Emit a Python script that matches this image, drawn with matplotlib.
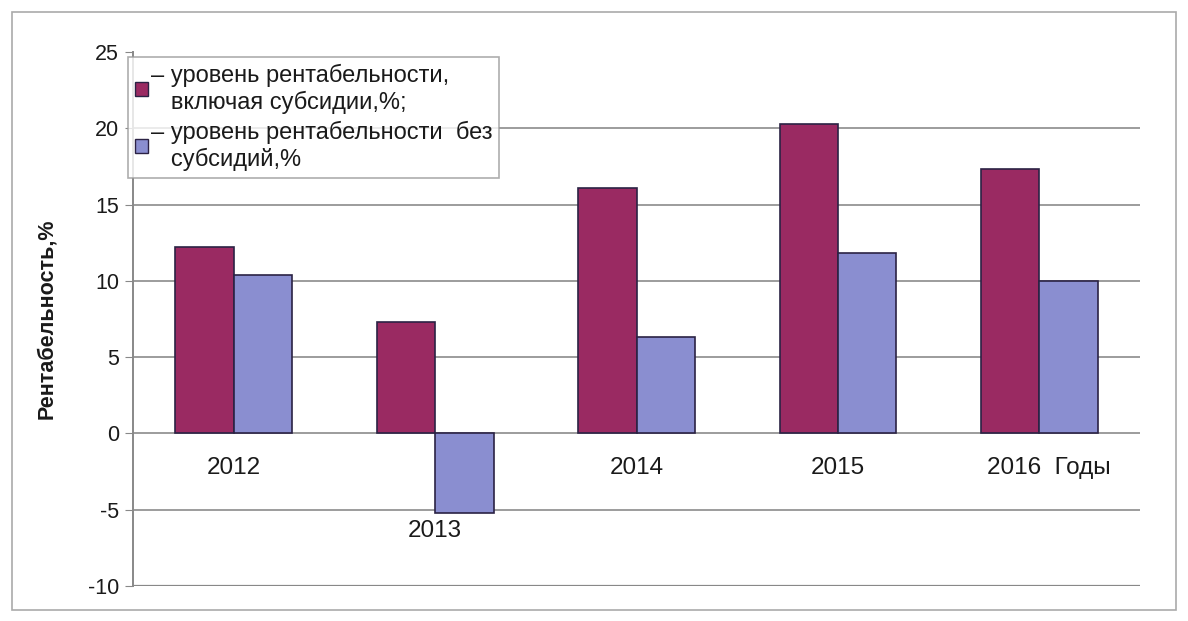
import matplotlib.pyplot as plt
from matplotlib.patches import Patch, Rectangle

plt.rcParams['font.family'] = ['Liberation Sans', 'DejaVu Sans']
plt.rcParams['axes.unicode_minus'] = False

# data
years = ["2012", "2013", "2014", "2015", "2016  Годы"]
with_subsidy = [12.2, 7.3, 16.1, 20.3, 17.3]
without_subsidy = [10.4, -5.2, 6.3, 11.8, 10.0]
series_labels = ["– уровень рентабельности,\n   включая субсидии,%;",
                 "– уровень рентабельности  без\n   субсидий,%"]

red = "#9a2a62"
blue = "#8a8ed0"
edge = "#2b2244"
grid = "#9c9c9c"
txt = "#1a1a1a"

fig = plt.figure(figsize=(11.88, 6.21), dpi=100)
ax = fig.add_axes([0.112, 0.0564, 0.8476, 0.8599])

x = list(range(len(years)))
w = 0.29
ax.bar([i - w / 2 for i in x], with_subsidy, w, color=red, edgecolor=edge, lw=1.2, zorder=3)
ax.bar([i + w / 2 for i in x], without_subsidy, w, color=blue, edgecolor=edge, lw=1.2, zorder=3)

ax.set_xlim(-0.5, len(years) - 0.5)
ax.set_ylim(-10, 25)
ax.set_yticks(range(-10, 26, 5))
for v in range(-5, 21, 5):
    ax.axhline(v, color=grid, lw=1.4, zorder=1)
ax.axhline(-10, color="#888888", lw=1.6, zorder=1)

for s in ["top", "right", "bottom"]:
    ax.spines[s].set_visible(False)
ax.spines["left"].set_color("#888888")
ax.spines["left"].set_linewidth(1.4)

ax.set_xticks([])
ax.tick_params(axis="y", length=6, color="#888888", labelsize=15.5, labelcolor=txt, pad=4)

# category labels under the zero line (or under a negative bar)
for i, name in enumerate(years):
    low = min(with_subsidy[i], without_subsidy[i])
    y = low - 0.5 if low < 0 else -1.55
    ha, xx = "center", i
    if i == len(years) - 1:
        ha, xx = "left", i - 0.26
    ax.text(xx, y, name, ha=ha, va="top", fontsize=17.5, color=txt)

ax.set_ylabel("Рентабельность,%", fontsize=15.5, fontweight="bold", color=txt)
ax.yaxis.set_label_coords(-0.075, 0.5)

handles = [Patch(facecolor=red, edgecolor=edge), Patch(facecolor=blue, edgecolor=edge)]
leg = ax.legend(handles, series_labels, loc="upper left", bbox_to_anchor=(0.108, 0.908),
                bbox_transform=fig.transFigure, fontsize=17, frameon=True, fancybox=False,
                handlelength=0.55, handleheight=0.55, handletextpad=0.1, borderpad=0.3,
                labelspacing=0.3, borderaxespad=0)
leg.get_frame().set_edgecolor("#999999")
leg.get_frame().set_linewidth(1.2)
for t in leg.get_texts():
    t.set_color(txt)

# outer frame
fig.patches.append(Rectangle((0.010, 0.018), 0.980, 0.962, transform=fig.transFigure,
                             fill=False, edgecolor="#aaaaaa", lw=1.2))

fig.savefig("out.png", dpi=100)
